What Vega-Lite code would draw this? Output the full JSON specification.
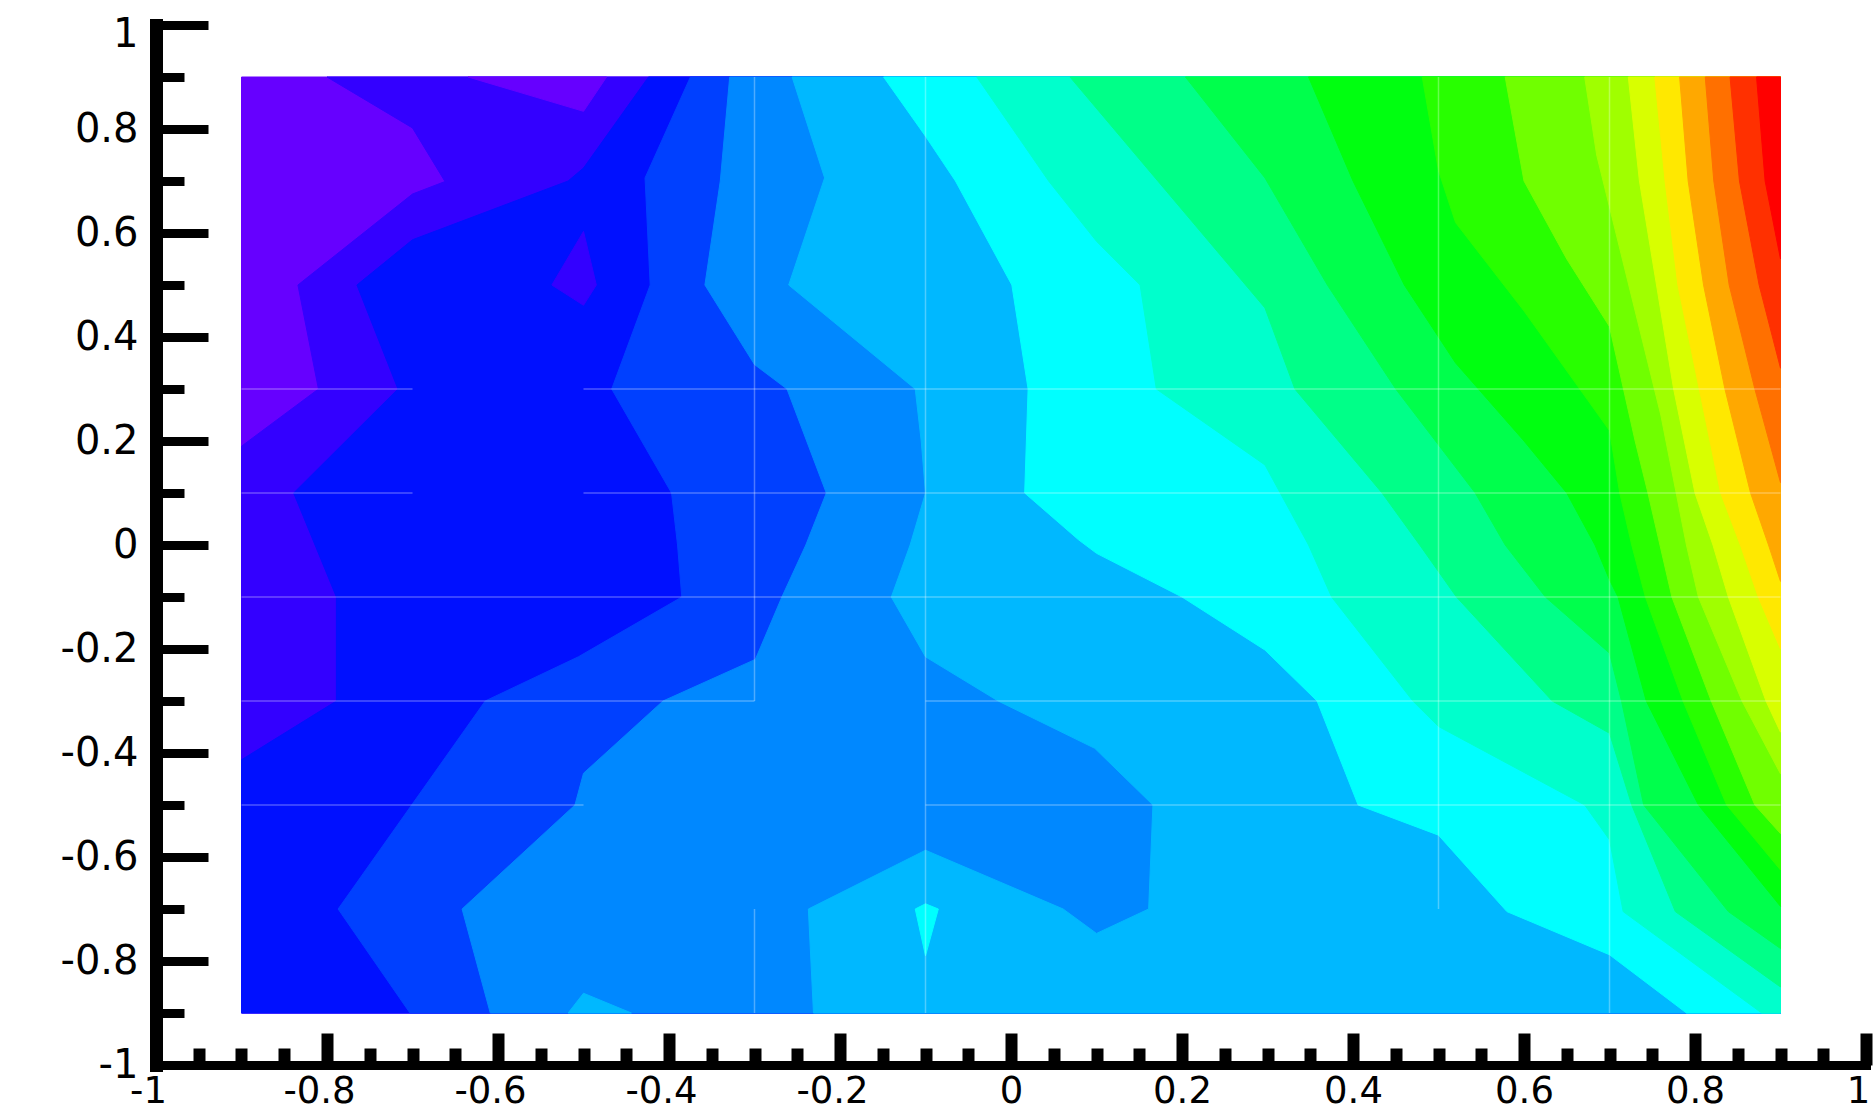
{
  "$schema": "https://vega.github.io/schema/vega-lite/v6.json",
  "width": 1710,
  "height": 1040,
  "autosize": {"type": "none"},
  "padding": {"left": 156, "top": 25, "right": 8, "bottom": 47},
  "background": "white",
  "config": {"view": {"stroke": null}},
  "layer": [
  {
  "data": {"values": [
    {"p":0,"c":0,"i":0,"x":-0.9,"y":0.9},{"p":0,"c":0,"i":1,"x":0.9,"y":0.9},{"p":0,"c":0,"i":2,"x":0.9,"y":-0.9},{"p":0,"c":0,"i":3,"x":-0.9,"y":-0.9},

    {"p":1,"c":1,"i":0,"x":-0.8,"y":0.9},{"p":1,"c":1,"i":1,"x":-0.7,"y":0.802},{"p":1,"c":1,"i":2,"x":-0.662,"y":0.699},{"p":1,"c":1,"i":3,"x":-0.7,"y":0.675},{"p":1,"c":1,"i":4,"x":-0.834,"y":0.5},{"p":1,"c":1,"i":5,"x":-0.81,"y":0.3},{"p":1,"c":1,"i":6,"x":-0.9,"y":0.19},{"p":1,"c":1,"i":7,"x":-0.9,"y":-0.9},{"p":1,"c":1,"i":8,"x":0.9,"y":-0.9},{"p":1,"c":1,"i":9,"x":0.9,"y":0.9},

    {"p":2,"c":2,"i":0,"x":-0.424,"y":0.9},{"p":2,"c":2,"i":1,"x":-0.5,"y":0.725},{"p":2,"c":2,"i":2,"x":-0.518,"y":0.7},{"p":2,"c":2,"i":3,"x":-0.7,"y":0.587},{"p":2,"c":2,"i":4,"x":-0.765,"y":0.5},{"p":2,"c":2,"i":5,"x":-0.717,"y":0.3},{"p":2,"c":2,"i":6,"x":-0.839,"y":0.1},{"p":2,"c":2,"i":7,"x":-0.814,"y":0.0},{"p":2,"c":2,"i":8,"x":-0.789,"y":-0.1},{"p":2,"c":2,"i":9,"x":-0.789,"y":-0.3},{"p":2,"c":2,"i":10,"x":-0.9,"y":-0.413},{"p":2,"c":2,"i":11,"x":-0.9,"y":-0.9},{"p":2,"c":2,"i":12,"x":0.9,"y":-0.9},{"p":2,"c":2,"i":13,"x":0.9,"y":0.9},

    {"p":3,"c":3,"i":0,"x":-0.375,"y":0.9},{"p":3,"c":3,"i":1,"x":-0.428,"y":0.706},{"p":3,"c":3,"i":2,"x":-0.422,"y":0.5},{"p":3,"c":3,"i":3,"x":-0.467,"y":0.3},{"p":3,"c":3,"i":4,"x":-0.397,"y":0.1},{"p":3,"c":3,"i":5,"x":-0.39,"y":0.0},{"p":3,"c":3,"i":6,"x":-0.385,"y":-0.1},{"p":3,"c":3,"i":7,"x":-0.506,"y":-0.215},{"p":3,"c":3,"i":8,"x":-0.615,"y":-0.3},{"p":3,"c":3,"i":9,"x":-0.701,"y":-0.5},{"p":3,"c":3,"i":10,"x":-0.787,"y":-0.7},{"p":3,"c":3,"i":11,"x":-0.703,"y":-0.9},{"p":3,"c":3,"i":12,"x":0.9,"y":-0.9},{"p":3,"c":3,"i":13,"x":0.9,"y":0.9},

    {"p":4,"c":4,"i":0,"x":-0.329,"y":0.9},{"p":4,"c":4,"i":1,"x":-0.34,"y":0.7},{"p":4,"c":4,"i":2,"x":-0.358,"y":0.5},{"p":4,"c":4,"i":3,"x":-0.3,"y":0.347},{"p":4,"c":4,"i":4,"x":-0.262,"y":0.3},{"p":4,"c":4,"i":5,"x":-0.216,"y":0.1},{"p":4,"c":4,"i":6,"x":-0.24,"y":0.0},{"p":4,"c":4,"i":7,"x":-0.268,"y":-0.1},{"p":4,"c":4,"i":8,"x":-0.299,"y":-0.22},{"p":4,"c":4,"i":9,"x":-0.407,"y":-0.3},{"p":4,"c":4,"i":10,"x":-0.5,"y":-0.439},{"p":4,"c":4,"i":11,"x":-0.51,"y":-0.5},{"p":4,"c":4,"i":12,"x":-0.642,"y":-0.7},{"p":4,"c":4,"i":13,"x":-0.609,"y":-0.9},{"p":4,"c":4,"i":14,"x":0.9,"y":-0.9},{"p":4,"c":4,"i":15,"x":0.9,"y":0.9},

    {"p":5,"c":5,"i":0,"x":-0.256,"y":0.9},{"p":5,"c":5,"i":1,"x":-0.218,"y":0.706},{"p":5,"c":5,"i":2,"x":-0.26,"y":0.5},{"p":5,"c":5,"i":3,"x":-0.112,"y":0.3},{"p":5,"c":5,"i":4,"x":-0.105,"y":0.2},{"p":5,"c":5,"i":5,"x":-0.1,"y":0.1},{"p":5,"c":5,"i":6,"x":-0.118,"y":0.0},{"p":5,"c":5,"i":7,"x":-0.14,"y":-0.1},{"p":5,"c":5,"i":8,"x":-0.1,"y":-0.215},{"p":5,"c":5,"i":9,"x":-0.015,"y":-0.3},{"p":5,"c":5,"i":10,"x":0.098,"y":-0.391},{"p":5,"c":5,"i":11,"x":0.166,"y":-0.5},{"p":5,"c":5,"i":12,"x":0.161,"y":-0.7},{"p":5,"c":5,"i":13,"x":0.1,"y":-0.747},{"p":5,"c":5,"i":14,"x":0.061,"y":-0.7},{"p":5,"c":5,"i":15,"x":-0.1,"y":-0.587},{"p":5,"c":5,"i":16,"x":-0.237,"y":-0.7},{"p":5,"c":5,"i":17,"x":-0.231,"y":-0.9},{"p":5,"c":5,"i":18,"x":0.9,"y":-0.9},{"p":5,"c":5,"i":19,"x":0.9,"y":0.9},

    {"p":6,"c":5,"i":0,"x":-0.518,"y":-0.9},{"p":6,"c":5,"i":1,"x":-0.5,"y":-0.862},{"p":6,"c":5,"i":2,"x":-0.444,"y":-0.9},

    {"p":7,"c":6,"i":0,"x":-0.149,"y":0.9},{"p":7,"c":6,"i":1,"x":-0.1,"y":0.786},{"p":7,"c":6,"i":2,"x":-0.065,"y":0.7},{"p":7,"c":6,"i":3,"x":0.001,"y":0.5},{"p":7,"c":6,"i":4,"x":0.02,"y":0.3},{"p":7,"c":6,"i":5,"x":0.016,"y":0.1},{"p":7,"c":6,"i":6,"x":0.079,"y":0.01},{"p":7,"c":6,"i":7,"x":0.1,"y":-0.016},{"p":7,"c":6,"i":8,"x":0.2,"y":-0.1},{"p":7,"c":6,"i":9,"x":0.297,"y":-0.202},{"p":7,"c":6,"i":10,"x":0.358,"y":-0.3},{"p":7,"c":6,"i":11,"x":0.406,"y":-0.5},{"p":7,"c":6,"i":12,"x":0.5,"y":-0.558},{"p":7,"c":6,"i":13,"x":0.58,"y":-0.705},{"p":7,"c":6,"i":14,"x":0.7,"y":-0.788},{"p":7,"c":6,"i":15,"x":0.79,"y":-0.9},{"p":7,"c":6,"i":16,"x":0.9,"y":-0.9},{"p":7,"c":6,"i":17,"x":0.9,"y":0.9},

    {"p":8,"c":6,"i":0,"x":-0.112,"y":-0.7},{"p":8,"c":6,"i":1,"x":-0.1,"y":-0.69},{"p":8,"c":6,"i":2,"x":-0.085,"y":-0.7},{"p":8,"c":6,"i":3,"x":-0.1,"y":-0.79},

    {"p":9,"c":7,"i":0,"x":-0.04,"y":0.9},{"p":9,"c":7,"i":1,"x":0.044,"y":0.7},{"p":9,"c":7,"i":2,"x":0.1,"y":0.584},{"p":9,"c":7,"i":3,"x":0.151,"y":0.5},{"p":9,"c":7,"i":4,"x":0.17,"y":0.3},{"p":9,"c":7,"i":5,"x":0.297,"y":0.154},{"p":9,"c":7,"i":6,"x":0.348,"y":0.0},{"p":9,"c":7,"i":7,"x":0.375,"y":-0.1},{"p":9,"c":7,"i":8,"x":0.47,"y":-0.3},{"p":9,"c":7,"i":9,"x":0.5,"y":-0.349},{"p":9,"c":7,"i":10,"x":0.671,"y":-0.5},{"p":9,"c":7,"i":11,"x":0.7,"y":-0.567},{"p":9,"c":7,"i":12,"x":0.716,"y":-0.705},{"p":9,"c":7,"i":13,"x":0.878,"y":-0.9},{"p":9,"c":7,"i":14,"x":0.9,"y":-0.9},{"p":9,"c":7,"i":15,"x":0.9,"y":0.9},

    {"p":10,"c":8,"i":0,"x":0.069,"y":0.9},{"p":10,"c":8,"i":1,"x":0.297,"y":0.456},{"p":10,"c":8,"i":2,"x":0.332,"y":0.3},{"p":10,"c":8,"i":3,"x":0.434,"y":0.1},{"p":10,"c":8,"i":4,"x":0.478,"y":0.0},{"p":10,"c":8,"i":5,"x":0.521,"y":-0.1},{"p":10,"c":8,"i":6,"x":0.633,"y":-0.3},{"p":10,"c":8,"i":7,"x":0.7,"y":-0.362},{"p":10,"c":8,"i":8,"x":0.726,"y":-0.5},{"p":10,"c":8,"i":9,"x":0.777,"y":-0.705},{"p":10,"c":8,"i":10,"x":0.9,"y":-0.85},{"p":10,"c":8,"i":11,"x":0.9,"y":0.9},

    {"p":11,"c":9,"i":0,"x":0.204,"y":0.9},{"p":11,"c":9,"i":1,"x":0.297,"y":0.706},{"p":11,"c":9,"i":2,"x":0.37,"y":0.5},{"p":11,"c":9,"i":3,"x":0.45,"y":0.3},{"p":11,"c":9,"i":4,"x":0.543,"y":0.1},{"p":11,"c":9,"i":5,"x":0.578,"y":0.0},{"p":11,"c":9,"i":6,"x":0.625,"y":-0.1},{"p":11,"c":9,"i":7,"x":0.7,"y":-0.208},{"p":11,"c":9,"i":8,"x":0.714,"y":-0.3},{"p":11,"c":9,"i":9,"x":0.74,"y":-0.5},{"p":11,"c":9,"i":10,"x":0.839,"y":-0.705},{"p":11,"c":9,"i":11,"x":0.9,"y":-0.776},{"p":11,"c":9,"i":12,"x":0.9,"y":0.9},

    {"p":12,"c":10,"i":0,"x":0.348,"y":0.9},{"p":12,"c":10,"i":1,"x":0.4,"y":0.7},{"p":12,"c":10,"i":2,"x":0.46,"y":0.5},{"p":12,"c":10,"i":3,"x":0.52,"y":0.35},{"p":12,"c":10,"i":4,"x":0.6,"y":0.2},{"p":12,"c":10,"i":5,"x":0.65,"y":0.1},{"p":12,"c":10,"i":6,"x":0.683,"y":0.0},{"p":12,"c":10,"i":7,"x":0.7,"y":-0.067},{"p":12,"c":10,"i":8,"x":0.71,"y":-0.1},{"p":12,"c":10,"i":9,"x":0.743,"y":-0.3},{"p":12,"c":10,"i":10,"x":0.804,"y":-0.5},{"p":12,"c":10,"i":11,"x":0.9,"y":-0.695},{"p":12,"c":10,"i":12,"x":0.9,"y":0.9},

    {"p":13,"c":11,"i":0,"x":0.481,"y":0.9},{"p":13,"c":11,"i":1,"x":0.5,"y":0.72},{"p":13,"c":11,"i":2,"x":0.52,"y":0.62},{"p":13,"c":11,"i":3,"x":0.6,"y":0.45},{"p":13,"c":11,"i":4,"x":0.7,"y":0.22},{"p":13,"c":11,"i":5,"x":0.712,"y":0.1},{"p":13,"c":11,"i":6,"x":0.726,"y":0.0},{"p":13,"c":11,"i":7,"x":0.742,"y":-0.1},{"p":13,"c":11,"i":8,"x":0.786,"y":-0.3},{"p":13,"c":11,"i":9,"x":0.837,"y":-0.5},{"p":13,"c":11,"i":10,"x":0.9,"y":-0.625},{"p":13,"c":11,"i":11,"x":0.9,"y":0.9},

    {"p":14,"c":12,"i":0,"x":0.578,"y":0.9},{"p":14,"c":12,"i":1,"x":0.6,"y":0.7},{"p":14,"c":12,"i":2,"x":0.65,"y":0.55},{"p":14,"c":12,"i":3,"x":0.7,"y":0.42},{"p":14,"c":12,"i":4,"x":0.73,"y":0.2},{"p":14,"c":12,"i":5,"x":0.745,"y":0.1},{"p":14,"c":12,"i":6,"x":0.759,"y":0.0},{"p":14,"c":12,"i":7,"x":0.773,"y":-0.1},{"p":14,"c":12,"i":8,"x":0.819,"y":-0.3},{"p":14,"c":12,"i":9,"x":0.87,"y":-0.5},{"p":14,"c":12,"i":10,"x":0.9,"y":-0.555},{"p":14,"c":12,"i":11,"x":0.9,"y":0.9},

    {"p":15,"c":13,"i":0,"x":0.671,"y":0.9},{"p":15,"c":13,"i":1,"x":0.685,"y":0.75},{"p":15,"c":13,"i":2,"x":0.7,"y":0.65},{"p":15,"c":13,"i":3,"x":0.73,"y":0.45},{"p":15,"c":13,"i":4,"x":0.76,"y":0.25},{"p":15,"c":13,"i":5,"x":0.79,"y":0.0},{"p":15,"c":13,"i":6,"x":0.804,"y":-0.1},{"p":15,"c":13,"i":7,"x":0.855,"y":-0.3},{"p":15,"c":13,"i":8,"x":0.9,"y":-0.44},{"p":15,"c":13,"i":9,"x":0.9,"y":0.9},

    {"p":16,"c":14,"i":0,"x":0.722,"y":0.9},{"p":16,"c":14,"i":1,"x":0.735,"y":0.7},{"p":16,"c":14,"i":2,"x":0.755,"y":0.5},{"p":16,"c":14,"i":3,"x":0.775,"y":0.3},{"p":16,"c":14,"i":4,"x":0.8,"y":0.1},{"p":16,"c":14,"i":5,"x":0.821,"y":0.0},{"p":16,"c":14,"i":6,"x":0.839,"y":-0.1},{"p":16,"c":14,"i":7,"x":0.883,"y":-0.3},{"p":16,"c":14,"i":8,"x":0.9,"y":-0.36},{"p":16,"c":14,"i":9,"x":0.9,"y":0.9},

    {"p":17,"c":15,"i":0,"x":0.753,"y":0.9},{"p":17,"c":15,"i":1,"x":0.765,"y":0.7},{"p":17,"c":15,"i":2,"x":0.78,"y":0.5},{"p":17,"c":15,"i":3,"x":0.805,"y":0.3},{"p":17,"c":15,"i":4,"x":0.83,"y":0.1},{"p":17,"c":15,"i":5,"x":0.853,"y":0.0},{"p":17,"c":15,"i":6,"x":0.874,"y":-0.1},{"p":17,"c":15,"i":7,"x":0.9,"y":-0.2},{"p":17,"c":15,"i":8,"x":0.9,"y":0.9},

    {"p":18,"c":16,"i":0,"x":0.782,"y":0.9},{"p":18,"c":16,"i":1,"x":0.792,"y":0.7},{"p":18,"c":16,"i":2,"x":0.81,"y":0.5},{"p":18,"c":16,"i":3,"x":0.835,"y":0.3},{"p":18,"c":16,"i":4,"x":0.865,"y":0.1},{"p":18,"c":16,"i":5,"x":0.886,"y":0.0},{"p":18,"c":16,"i":6,"x":0.9,"y":-0.07},{"p":18,"c":16,"i":7,"x":0.9,"y":0.9},

    {"p":19,"c":17,"i":0,"x":0.812,"y":0.9},{"p":19,"c":17,"i":1,"x":0.822,"y":0.7},{"p":19,"c":17,"i":2,"x":0.84,"y":0.5},{"p":19,"c":17,"i":3,"x":0.87,"y":0.3},{"p":19,"c":17,"i":4,"x":0.9,"y":0.12},{"p":19,"c":17,"i":5,"x":0.9,"y":0.9},

    {"p":20,"c":18,"i":0,"x":0.841,"y":0.9},{"p":20,"c":18,"i":1,"x":0.852,"y":0.7},{"p":20,"c":18,"i":2,"x":0.875,"y":0.5},{"p":20,"c":18,"i":3,"x":0.9,"y":0.34},{"p":20,"c":18,"i":4,"x":0.9,"y":0.9},

    {"p":21,"c":19,"i":0,"x":0.872,"y":0.9},{"p":21,"c":19,"i":1,"x":0.882,"y":0.7},{"p":21,"c":19,"i":2,"x":0.9,"y":0.55},{"p":21,"c":19,"i":3,"x":0.9,"y":0.9},

    {"p":22,"c":0,"i":0,"x":-0.635,"y":0.9},{"p":22,"c":0,"i":1,"x":-0.5,"y":0.834},{"p":22,"c":0,"i":2,"x":-0.473,"y":0.9},

    {"p":23,"c":1,"i":0,"x":-0.5,"y":0.603},{"p":23,"c":1,"i":1,"x":-0.485,"y":0.5},{"p":23,"c":1,"i":2,"x":-0.5,"y":0.461},{"p":23,"c":1,"i":3,"x":-0.537,"y":0.5}
  ]},
  "mark": {"type": "line", "interpolate": "linear-closed", "strokeWidth": 1},
  "encoding": {
    "x": {
      "field": "x", "type": "quantitative",
      "scale": {"domain": [-1, 1], "nice": false, "zero": false},
      "axis": {
        "title": null, "grid": false, "orient": "bottom",
        "values": [-1,-0.95,-0.9,-0.85,-0.8,-0.75,-0.7,-0.65,-0.6,-0.55,-0.5,-0.45,-0.4,-0.35,-0.3,-0.25,-0.2,-0.15,-0.1,-0.05,0,0.05,0.1,0.15,0.2,0.25,0.3,0.35,0.4,0.45,0.5,0.55,0.6,0.65,0.7,0.75,0.8,0.85,0.9,0.95,1],
        "domainColor": "black", "domainWidth": 9, "domainCap": "square",
        "tickColor": "black", "tickWidth": 12, "tickCap": "butt",
        "tickSize": {"condition": {"test": "abs(datum.value*5 - round(datum.value*5)) < 0.001", "value": -32}, "value": -17},
        "labelExpr": "abs(datum.value*5 - round(datum.value*5)) < 0.001 ? toString(datum.value) : ''",
        "labelFont": "DejaVu Sans", "labelFontSize": 37, "labelColor": "black",
        "labelPadding": 40, "labelFlush": false, "labelOverlap": false, "labelBound": false,
        "labelOffset": {"condition": {"test": "datum.value < 0 || datum.value > 0.99", "value": -8}, "value": 0}
      }
    },
    "y": {
      "field": "y", "type": "quantitative",
      "scale": {"domain": [-1, 1], "nice": false, "zero": false},
      "axis": {
        "title": null, "grid": false, "orient": "left",
        "values": [-1,-0.95,-0.9,-0.85,-0.8,-0.75,-0.7,-0.65,-0.6,-0.55,-0.5,-0.45,-0.4,-0.35,-0.3,-0.25,-0.2,-0.15,-0.1,-0.05,0,0.05,0.1,0.15,0.2,0.25,0.3,0.35,0.4,0.45,0.5,0.55,0.6,0.65,0.7,0.75,0.8,0.85,0.9,0.95,1],
        "domainColor": "black", "domainWidth": 13, "domainCap": "square",
        "tickColor": "black", "tickWidth": 9, "tickCap": "butt",
        "tickSize": {"condition": {"test": "abs(datum.value*5 - round(datum.value*5)) < 0.001", "value": -52}, "value": -28},
        "labelExpr": "abs(datum.value*5 - round(datum.value*5)) < 0.001 ? toString(datum.value) : ''",
        "labelFont": "DejaVu Sans", "labelFontSize": 40, "labelColor": "black",
        "labelPadding": 70, "labelFlush": false, "labelOverlap": false, "labelBound": false,
        "labelOffset": {"condition": {"test": "datum.value > 0.99", "value": 9}, "value": 0}
      }
    },
    "order": {"field": "i", "type": "quantitative"},
    "detail": {"field": "p", "type": "nominal"},
    "fill": {
      "field": "c", "type": "ordinal", "legend": null,
      "scale": {"domain": [0,1,2,3,4,5,6,7,8,9,10,11,12,13,14,15,16,17,18,19],
                "range": ["#6600ff","#3300ff","#0010ff","#0040ff","#0088ff","#00b8ff","#00ffff","#00ffcc","#00ff88","#00ff4c","#00ff10","#28ff00","#70ff00","#a0ff00","#d8ff00","#ffe800","#ffa800","#ff7000","#ff3000","#ff0000"]}
    },
    "stroke": {
      "field": "c", "type": "ordinal", "legend": null,
      "scale": {"domain": [0,1,2,3,4,5,6,7,8,9,10,11,12,13,14,15,16,17,18,19],
                "range": ["#6600ff","#3300ff","#0010ff","#0040ff","#0088ff","#00b8ff","#00ffff","#00ffcc","#00ff88","#00ff4c","#00ff10","#28ff00","#70ff00","#a0ff00","#d8ff00","#ffe800","#ffa800","#ff7000","#ff3000","#ff0000"]}
    }
  }
  },
  {
    "data": {"values": [
      {"x":-0.3,"y":0.9,"x2":-0.3,"y2":-0.3},
      {"x":-0.3,"y":-0.7,"x2":-0.3,"y2":-0.9},
      {"x":-0.1,"y":0.9,"x2":-0.1,"y2":-0.9},
      {"x":0.5,"y":0.9,"x2":0.5,"y2":-0.7},
      {"x":0.7,"y":0.9,"x2":0.7,"y2":-0.9},
      {"x":-0.9,"y":0.3,"x2":-0.7,"y2":0.3},
      {"x":-0.5,"y":0.3,"x2":0.9,"y2":0.3},
      {"x":-0.9,"y":0.1,"x2":-0.7,"y2":0.1},
      {"x":-0.5,"y":0.1,"x2":0.9,"y2":0.1},
      {"x":-0.9,"y":-0.1,"x2":0.9,"y2":-0.1},
      {"x":-0.9,"y":-0.3,"x2":-0.3,"y2":-0.3},
      {"x":-0.1,"y":-0.3,"x2":0.9,"y2":-0.3},
      {"x":-0.9,"y":-0.5,"x2":-0.5,"y2":-0.5},
      {"x":-0.1,"y":-0.5,"x2":0.9,"y2":-0.5}
    ]},
    "mark": {"type": "rule", "color": "white", "opacity": 0.3, "strokeWidth": 1.5},
    "encoding": {
      "x": {"field": "x", "type": "quantitative"},
      "y": {"field": "y", "type": "quantitative"},
      "x2": {"field": "x2"},
      "y2": {"field": "y2"}
    }
  }
  ]
}
